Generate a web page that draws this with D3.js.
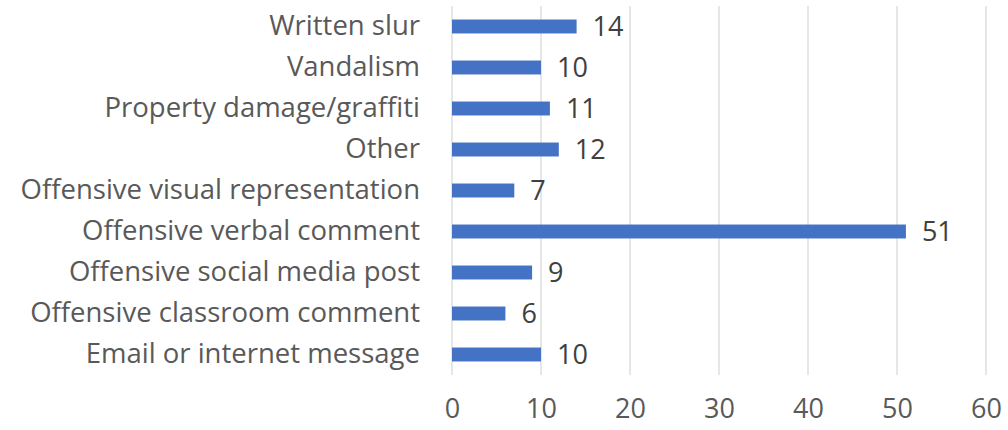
<!DOCTYPE html>
<html>
<head>
<meta charset="utf-8">
<script src="https://cdn.jsdelivr.net/npm/d3@7"></script>
<style>
  body { margin: 0; background: white; }
  text { font-family: "Open Sans", sans-serif; }
</style>
</head>
<body>
<div id="chart"></div>
<script>
// categories listed top to bottom
let categories = ["Written slur", "Vandalism", "Property damage/graffiti", "Other",
  "Offensive visual representation", "Offensive verbal comment",
  "Offensive social media post", "Offensive classroom comment", "Email or internet message"];
let counts = [14, 10, 11, 12, 7, 51, 9, 6, 10];
let tickValues = [0, 10, 20, 30, 40, 50, 60];

let margin = { top: 6, left: 452, right: 22, bottom: 55 },
  width = 1008 - margin.left - margin.right,
  height = 430 - margin.top - margin.bottom;

let svg = d3.select('#chart')
  .append('svg')
  .attr('width', 1008)
  .attr('height', 430);

let g = svg.append('g')
  .attr('transform', 'translate(' + margin.left + ',' + margin.top + ')');

let x = d3.scaleLinear().domain([0, 60]).range([0, 534]);
let y = d3.scaleBand().domain(categories).range([0, height]).paddingInner(0.66).paddingOuter(0.33);

// vertical gridlines
g.selectAll('.grid')
  .data(tickValues)
  .enter().append('line')
  .attr('x1', d => x(d)).attr('x2', d => x(d))
  .attr('y1', 0).attr('y2', height)
  .attr('stroke', '#d9d9d9')
  .attr('stroke-width', 1.3);

// bars
g.selectAll('.bar')
  .data(categories)
  .enter().append('rect')
  .attr('x', x(0))
  .attr('y', d => y(d))
  .attr('width', (d, i) => x(counts[i]) - x(0))
  .attr('height', y.bandwidth())
  .attr('fill', '#4472c4');

// value labels
g.selectAll('.val')
  .data(categories)
  .enter().append('text')
  .attr('x', (d, i) => x(counts[i]) + 16)
  .attr('y', d => y(d) + y.bandwidth() / 2)
  .attr('dy', '0.36em')
  .attr('fill', '#404040')
  .style('font-size', '27px')
  .text((d, i) => counts[i]);

// category axis (no line, no ticks)
let yAxis = g.append('g')
  .call(d3.axisLeft(y).tickSize(0).tickPadding(32));
yAxis.select('.domain').remove();
yAxis.selectAll('text')
  .attr('fill', '#595959')
  .style('font-size', '27.5px')
  .style('font-family', '"Open Sans", sans-serif');

// value axis
let xAxis = g.append('g')
  .attr('transform', 'translate(0,' + height + ')')
  .call(d3.axisBottom(x).tickValues(tickValues).tickSize(0).tickPadding(24));
xAxis.select('.domain').remove();
xAxis.selectAll('text')
  .attr('fill', '#595959')
  .style('font-size', '27px')
  .style('font-family', '"Open Sans", sans-serif');
</script>
</body>
</html>
